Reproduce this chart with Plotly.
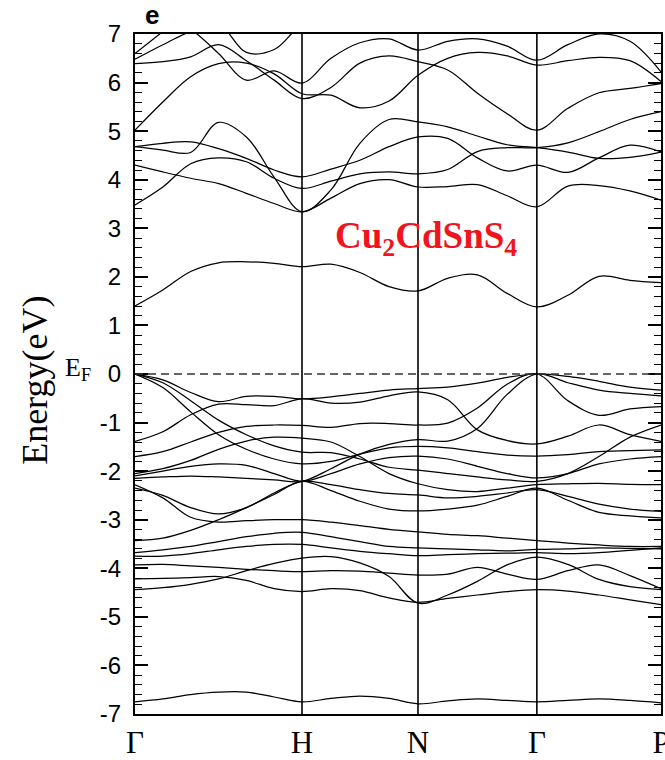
import plotly.graph_objects as go

# ---- k-path sample points (fractional distance along path) ----
k_points = [0.0, 0.0529, 0.1058, 0.1588, 0.2117, 0.2646, 0.3175,
            0.3725, 0.4275, 0.4830, 0.5380,
            0.5945, 0.6510, 0.7075, 0.7640,
            0.8230, 0.8820, 0.9410, 1.0]
sym_k = [0.0, 0.3175, 0.538, 0.764, 1.0]
sym_labels = ["Γ", "H", "N", "Γ", "P"]

# ---- conduction bands (eV) ----
c1 = [1.40, 1.73, 2.11, 2.29, 2.31, 2.28, 2.21, 2.26, 2.09, 1.80, 1.71, 1.97, 2.04, 1.66, 1.38, 1.62, 2.01, 1.93, 1.88]
c2 = [4.30, 4.16, 4.03, 3.92, 3.72, 3.51, 3.34, 3.62, 3.92, 4.00, 3.85, 3.86, 3.90, 3.67, 3.44, 3.87, 3.88, 3.77, 3.58]
c3 = [4.68, 4.61, 4.56, 5.18, 4.88, 4.05, 3.34, 3.79, 4.75, 5.24, 5.19, 5.09, 4.90, 4.72, 4.66, 4.57, 4.44, 4.46, 4.57]
c4 = [3.48, 3.85, 4.33, 4.45, 4.37, 4.03, 3.82, 3.97, 4.12, 4.16, 4.12, 4.21, 4.58, 4.66, 4.66, 4.76, 4.99, 5.24, 5.40]
c5 = [4.68, 4.75, 4.78, 4.64, 4.44, 4.20, 4.06, 4.22, 4.40, 4.68, 4.88, 4.85, 4.45, 4.18, 4.30, 4.15, 4.45, 4.71, 4.57]
c6 = [6.39, 6.43, 6.53, 6.78, 6.45, 6.05, 5.67, 5.90, 6.40, 6.55, 6.43, 6.26, 5.78, 5.36, 5.02, 5.47, 5.79, 5.88, 5.98]
c7 = [5.02, 5.60, 6.12, 6.39, 6.40, 6.18, 5.77, 5.74, 5.48, 5.62, 6.15, 6.50, 6.62, 6.55, 6.36, 6.45, 6.52, 6.45, 6.02]
c8 = [7.60, 7.40, 7.10, 6.60, 6.05, 6.24, 5.99, 6.50, 6.82, 6.90, 6.67, 6.85, 6.90, 6.75, 6.46, 6.78, 7.00, 6.85, 6.22]
c9 = [6.60, 7.05, 7.50, 7.80, 7.80, 7.60, 7.40, 7.30, 7.20, 7.20, 7.20, 7.30, 7.40, 7.40, 7.30, 7.30, 7.30, 7.30, 7.30]
c10 = [6.48, 6.78, 7.05, 7.20, 6.62, 6.68, 7.20, 7.40, 7.50, 7.50, 7.40, 7.50, 7.50, 7.50, 7.50, 7.50, 7.50, 7.50, 7.50]

# ---- valence bands (eV) ----
v1 = [0.00, -0.12, -0.38, -0.57, -0.46, -0.46, -0.51, -0.47, -0.40, -0.33, -0.30, -0.27, -0.19, -0.07, 0.00, -0.05, -0.15, -0.27, -0.33]
v2 = [-1.39, -1.19, -0.84, -0.62, -0.63, -0.65, -0.51, -0.60, -0.58, -0.45, -0.37, -0.53, -1.15, -1.37, -1.44, -1.28, -1.05, -1.25, -1.39]
v3 = [0.00, -0.18, -0.55, -0.95, -1.25, -1.48, -1.61, -1.62, -1.75, -1.92, -1.98, -2.05, -2.12, -2.18, -2.21, -2.05, -1.70, -1.30, -1.05]
v4 = [0.00, -0.28, -0.78, -1.25, -1.55, -1.75, -1.85, -1.80, -1.65, -1.52, -1.49, -1.52, -1.60, -1.67, -1.69, -1.66, -1.60, -1.58, -1.56]
v5 = [-1.70, -1.60, -1.40, -1.20, -1.08, -1.05, -1.06, -1.10, -1.02, -1.02, -1.05, -1.01, -0.70, -0.21, 0.00, -0.55, -0.85, -0.72, -0.67]
v6 = [-2.05, -1.95, -1.78, -1.55, -1.38, -1.30, -1.32, -1.40, -1.70, -2.05, -2.26, -2.38, -2.42, -2.35, -2.28, -2.26, -2.25, -2.27, -2.28]
v7 = [-2.15, -2.12, -2.10, -2.12, -2.15, -2.18, -2.21, -1.95, -1.65, -1.45, -1.35, -1.38, -1.12, -0.42, 0.00, -0.18, -0.33, -0.40, -0.45]
v8 = [-2.10, -2.00, -1.90, -1.85, -1.88, -2.05, -2.21, -2.05, -1.85, -1.72, -1.69, -1.75, -1.90, -2.05, -2.14, -2.05, -1.85, -1.75, -1.70]
v9 = [-2.35, -2.50, -2.75, -2.88, -2.75, -2.45, -2.21, -2.28, -2.38, -2.46, -2.49, -2.55, -2.52, -2.45, -2.38, -2.52, -2.68, -2.78, -2.83]
v10 = [-2.28, -2.55, -2.95, -3.05, -3.02, -3.00, -3.00, -3.05, -3.12, -3.20, -3.25, -3.30, -3.33, -3.38, -3.43, -3.48, -3.52, -3.55, -3.55]
v11 = [-3.43, -3.38, -3.22, -3.00, -2.75, -2.48, -2.21, -2.40, -2.62, -2.78, -2.82, -2.78, -2.70, -2.52, -2.35, -2.60, -2.85, -2.92, -2.96]
v12 = [-3.68, -3.62, -3.55, -3.45, -3.35, -3.28, -3.26, -3.35, -3.45, -3.55, -3.58, -3.60, -3.62, -3.64, -3.61, -3.60, -3.58, -3.59, -3.60]
v13 = [-3.75, -3.75, -3.70, -3.62, -3.55, -3.51, -3.51, -3.58, -3.65, -3.70, -3.74, -3.72, -3.70, -3.69, -3.68, -3.70, -3.68, -3.63, -3.58]
v14 = [-3.93, -3.92, -3.95, -3.98, -4.02, -4.05, -4.07, -4.05, -4.06, -4.10, -4.14, -4.12, -3.98, -4.12, -4.23, -4.05, -3.93, -4.15, -4.42]
v15 = [-4.22, -4.21, -4.19, -4.17, -4.25, -4.42, -4.48, -4.42, -4.46, -4.61, -4.70, -4.62, -4.55, -4.48, -4.44, -4.47, -4.55, -4.65, -4.75]
v16 = [-4.44, -4.40, -4.33, -4.22, -4.05, -3.90, -3.79, -3.76, -3.89, -4.17, -4.72, -4.55, -4.27, -3.93, -3.77, -3.92, -4.23, -4.38, -4.44]
v17 = [-6.75, -6.69, -6.60, -6.55, -6.55, -6.65, -6.75, -6.68, -6.63, -6.68, -6.79, -6.73, -6.69, -6.72, -6.75, -6.72, -6.69, -6.72, -6.77]

bands = [c1, c2, c3, c4, c5, c6, c7, c8, c9, c10,
         v1, v2, v3, v4, v5, v6, v7, v8, v9, v10, v11, v12, v13, v14, v15, v16, v17]

y_ticks = list(range(-7, 8))
y_ticktext = [str(v) for v in y_ticks]

fig = go.Figure()
for b in bands:
    fig.add_trace(go.Scatter(x=k_points, y=b, mode="lines",
                             line=dict(color="black", width=1.25, shape="spline", smoothing=1.0),
                             showlegend=False, hoverinfo="skip"))

# vertical lines at interior symmetry points
for kk in sym_k[1:-1]:
    fig.add_shape(type="line", xref="x", yref="paper", x0=kk, x1=kk, y0=0, y1=1,
                  line=dict(color="black", width=1.6))
# Fermi level
fig.add_shape(type="line", xref="paper", yref="y", x0=0, x1=1, y0=0, y1=0,
              line=dict(color="#333333", width=1.5, dash="8px,5px"))

fig.update_xaxes(range=[0, 1], showgrid=False, zeroline=False, automargin=False,
                 showline=True, linecolor="black", linewidth=2, mirror=True,
                 ticks="", tickvals=sym_k, ticktext=sym_labels,
                 tickfont=dict(family="Liberation Serif", size=31, color="black"),
                 ticklabelstandoff=0, ticklabeloverflow="allow")
fig.update_yaxes(range=[-7, 7], showgrid=False, zeroline=False, automargin=False,
                 showline=True, linecolor="black", linewidth=2, mirror="ticks",
                 ticks="inside", ticklen=13, tickwidth=1.5, tickcolor="black",
                 tickvals=y_ticks, ticktext=y_ticktext,
                 tickfont=dict(family="Liberation Sans", size=24, color="black"),
                 ticklabelstandoff=7,
                 minor=dict(ticks="inside", ticklen=7, tickwidth=1, tickcolor="black",
                            dtick=0.2, tick0=0, showgrid=False))

fig.add_annotation(text="Energy(eV)", xref="paper", yref="paper", x=-0.19, y=0.49,
                   textangle=-90, showarrow=False, xanchor="center", yanchor="middle",
                   font=dict(family="Liberation Serif", size=36, color="black"))
fig.add_annotation(text="E<sub>F</sub>", xref="paper", yref="y", x=-0.108, y=0.1,
                   showarrow=False, xanchor="center", yanchor="middle",
                   font=dict(family="Liberation Serif", size=26, color="black"))
fig.add_annotation(text="<b>e</b>", xref="paper", yref="paper", x=0.032, y=1.028,
                   showarrow=False, xanchor="center", yanchor="middle",
                   font=dict(family="Liberation Sans", size=26, color="black"))
fig.add_annotation(text="<b>Cu<sub>2</sub>CdSnS<sub>4</sub></b>", xref="paper", yref="paper",
                   x=0.553, y=0.70, showarrow=False, xanchor="center", yanchor="middle",
                   font=dict(family="Liberation Serif", size=37, color="rgb(240,20,30)"))

fig.update_layout(width=665, height=760, margin=dict(l=135, r=4, t=34, b=46),
                  plot_bgcolor="white", paper_bgcolor="white")
fig.write_html("out.html")
